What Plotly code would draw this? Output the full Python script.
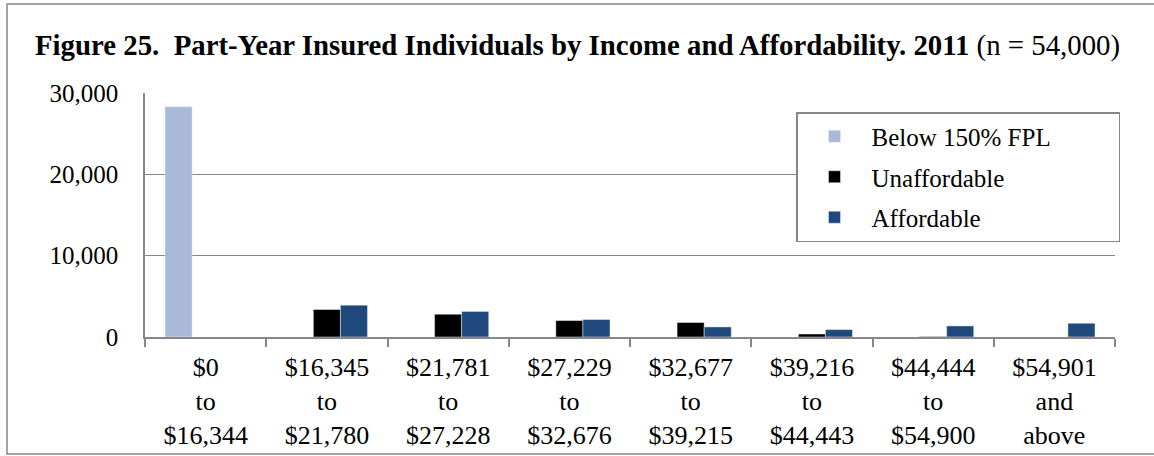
import plotly.graph_objects as go

# Income bands (x categories)
categories = [
    "$0<br>to<br>$16,344",
    "$16,345<br>to<br>$21,780",
    "$21,781<br>to<br>$27,228",
    "$27,229<br>to<br>$32,676",
    "$32,677<br>to<br>$39,215",
    "$39,216<br>to<br>$44,443",
    "$44,444<br>to<br>$54,900",
    "$54,901<br>and<br>above",
]

# Series values
below_150_fpl = [28300, None, None, None, None, None, None, None]
unaffordable = [None, 3380, 2800, 2020, 1780, 370, 60, None]
affordable = [None, 3910, 3140, 2150, 1240, 910, 1360, 1690]

y_ticks = [0, 10000, 20000, 30000]
y_tick_labels = ["0", "10,000", "20,000", "30,000"]

FONT = "Liberation Serif"
GRAY = "#878787"

fig = go.Figure()
# trailing nbsp widens the legend box like the original
fig.add_trace(go.Bar(x=categories, y=below_150_fpl, name="Below 150% FPL" + "&nbsp;" * 10,
                     marker_color="#A9B9D8", legendgroup="a"))
fig.add_trace(go.Bar(x=categories, y=unaffordable, name="Unaffordable",
                     marker_color="#000000", legendgroup="b"))
fig.add_trace(go.Bar(x=categories, y=affordable, name="Affordable",
                     marker_color="#1F497D", legendgroup="c"))

# plot area sits at x 145..1115, y 93..337 (pixels)
W, H = 1154, 456
L, R, T, B = 145, 1115, 93, 337


def px_x(p):
    return (p - L) / (R - L)


def px_y(p):
    return (B - p) / (B - T)


# outer frame around the whole chart
fig.add_shape(
    type="rect", xref="paper", yref="paper",
    x0=px_x(7), x1=px_x(1170), y0=px_y(454), y1=px_y(4),
    line=dict(color=GRAY, width=1.5), layer="below",
)

fig.update_layout(
    width=W,
    height=H,
    margin=dict(l=L, r=W - R, t=T, b=H - B),
    paper_bgcolor="white",
    plot_bgcolor="white",
    barmode="group",
    bargap=0.33,
    bargroupgap=0,
    font=dict(family=FONT, size=25, color="#000000"),
    title=dict(
        text="<b>Figure 25.&nbsp; Part-Year Insured Individuals by Income and Affordability. 2011</b> (n = 54,000)",
        x=35 / W,
        xanchor="left",
        y=1 - 45 / H,
        yanchor="middle",
        font=dict(family=FONT, size=28.8, color="#000000"),
    ),
    showlegend=True,
    legend=dict(
        x=px_x(796),
        y=px_y(112),
        xanchor="left",
        yanchor="top",
        bgcolor="white",
        bordercolor=GRAY,
        borderwidth=1.5,
        font=dict(family=FONT, size=25),
        itemwidth=64,
        tracegroupgap=5,
    ),
)

fig.update_xaxes(
    showline=True,
    linecolor=GRAY,
    linewidth=1.5,
    ticks="outside",
    tickson="boundaries",
    ticklen=8,
    tickcolor=GRAY,
    tickwidth=1.5,
    showgrid=False,
    automargin=False,
    ticklabelstandoff=6,
    tickfont=dict(family=FONT, size=26),
)
fig.update_yaxes(
    range=[0, 30000],
    tickvals=y_ticks,
    ticktext=y_tick_labels,
    showline=True,
    linecolor=GRAY,
    linewidth=1.5,
    showgrid=True,
    gridcolor=GRAY,
    gridwidth=1,
    zeroline=False,
    automargin=False,
    ticklabelstandoff=20,
    tickfont=dict(family=FONT, size=25),
)

# drop the default 8px page margin so the frame lands where it should
fig.write_html(
    "out.html",
    config={"displayModeBar": False},
    post_script="document.body.style.margin='0';",
)
